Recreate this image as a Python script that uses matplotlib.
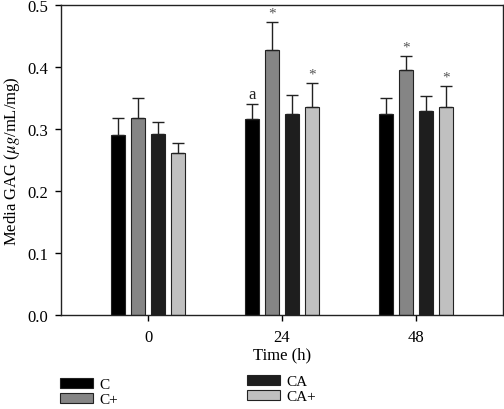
import matplotlib
matplotlib.use("Agg")
import matplotlib.pyplot as plt
import numpy as np

plt.rcParams['font.family'] = ['Liberation Serif', 'DejaVu Serif']
plt.rcParams['mathtext.fontset'] = 'stix'

times = ["0", "24", "48"]
series = ["C", "C+", "CA", "CA+"]
means = {
    "C":   [0.290, 0.316, 0.325],
    "C+":  [0.318, 0.427, 0.395],
    "CA":  [0.292, 0.325, 0.329],
    "CA+": [0.262, 0.335, 0.336],
}
errs = {
    "C":   [0.028, 0.025, 0.026],
    "C+":  [0.032, 0.046, 0.023],
    "CA":  [0.020, 0.030, 0.024],
    "CA+": [0.016, 0.040, 0.033],
}
# annotations: (series, time index, label)
marks = [("C", 1, "a"), ("C+", 1, "*"), ("CA+", 1, "*"), ("C+", 2, "*"), ("CA+", 2, "*")]

colors = {"C": "#000000", "C+": "#858585", "CA": "#1e1e1e", "CA+": "#c0c0c0"}
offsets = {"C": -0.224, "C+": -0.075, "CA": 0.075, "CA+": 0.224}
width = 0.10
FS = 12

fig = plt.figure(figsize=(5.04, 4.10), dpi=100)
ax = fig.add_axes([0.121, 0.229, 0.877, 0.756])
x = np.arange(len(times))
handles = {}
for s in series:
    h = ax.bar(x + offsets[s], means[s], width, color=colors[s], edgecolor="#222222",
               linewidth=0.8, yerr=[np.zeros(len(times)), errs[s]],
               error_kw=dict(ecolor="#222222", elinewidth=1.0, capsize=4, capthick=1.0),
               label=s, zorder=2)
    handles[s] = h

for s, i, lab in marks:
    top = means[s][i] + errs[s][i]
    if lab == "*":
        ax.text(x[i] + offsets[s], top + 0.004, lab, ha="center", va="bottom",
                fontsize=11, color="#555555")
    else:
        ax.text(x[i] + offsets[s], top + 0.003, lab, ha="center", va="bottom",
                fontsize=FS, color="#222222")

ax.set_xlim(-0.65, 2.65)
ax.set_ylim(0, 0.5)
ax.set_xticks(x)
ax.set_xticklabels(times)
ax.set_yticks([0.0, 0.1, 0.2, 0.3, 0.4, 0.5])
ax.set_yticklabels(["0.0", "0.1", "0.2", "0.3", "0.4", "0.5"])
ax.tick_params(axis="both", labelsize=FS, direction="out", length=4, width=1)
ax.tick_params(axis="x", pad=6)
ax.tick_params(axis="y", pad=5)
for sp in ax.spines.values():
    sp.set_linewidth(1.0)
    sp.set_color("#222222")
ax.set_xlabel("Time (h)", fontsize=FS, labelpad=1)
ax.set_ylabel(r"Media GAG ($\mu g$/mL/mg)", fontsize=FS, labelpad=4)

common = dict(frameon=False, fontsize=11, handlelength=2.15, handleheight=0.65,
              labelspacing=0.1, borderpad=0, borderaxespad=0, handletextpad=0.45,
              loc="upper left")
fig.legend([handles["C"], handles["C+"]], ["C", "C+"],
           bbox_to_anchor=(60 / 504, 1 - 379 / 410), **common)
fig.legend([handles["CA"], handles["CA+"]], ["CA", "CA+"],
           bbox_to_anchor=(247 / 504, 1 - 376 / 410), **common)

fig.savefig("out.png", dpi=100)
